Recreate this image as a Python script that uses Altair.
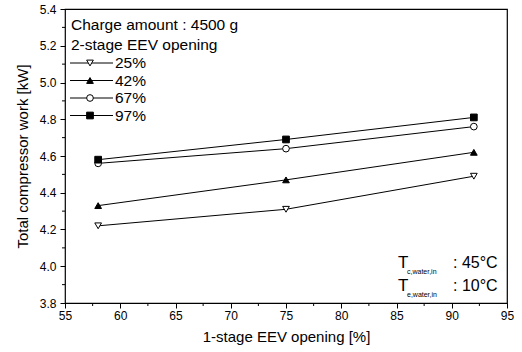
import altair as alt
import pandas as pd

series = ["25%", "42%", "67%", "97%"]
x_open = [58, 75, 92]
work_25 = [4.22, 4.31, 4.49]
work_42 = [4.33, 4.47, 4.62]
work_67 = [4.56, 4.64, 4.76]
work_97 = [4.58, 4.69, 4.81]
shapes = ["triangle-down", "triangle-up", "circle", "square"]
fills = ["white", "black", "white", "black"]

x_major = [55, 60, 65, 70, 75, 80, 85, 90, 95]
x_minor = [57.5, 62.5, 67.5, 72.5, 77.5, 82.5, 87.5, 92.5]
y_major = [3.8, 4.0, 4.2, 4.4, 4.6, 4.8, 5.0, 5.2, 5.4]
y_minor = [3.9, 4.1, 4.3, 4.5, 4.7, 4.9, 5.1, 5.3]

rows = []
for s, vals in zip(series, [work_25, work_42, work_67, work_97]):
    for xv, yv in zip(x_open, vals):
        rows.append({"series": s, "x": xv, "y": yv})
df = pd.DataFrame(rows)
one = pd.DataFrame({"k": [0]})

W, H = 442, 294
FONT = "Liberation Sans"

xs = alt.Scale(domain=[55, 95], nice=False)
ys = alt.Scale(domain=[3.8, 5.4], nice=False)

xaxis = alt.Axis(values=x_major, format="d", title="1-stage EEV opening [%]",
                 grid=False, tickSize=5, tickColor="black", domain=False,
                 labelOverlap=False, labelFlush=False,
                 labelFont=FONT, labelFontSize=12, labelColor="black", labelPadding=2,
                 titleFont=FONT, titleFontSize=15, titleFontWeight="normal",
                 titleColor="black", titlePadding=8)
yaxis = alt.Axis(values=y_major, format=".1f", title="Total compressor work [kW]",
                 grid=False, tickSize=5, tickColor="black", domain=False,
                 labelOverlap=False, labelFlush=False,
                 labelFont=FONT, labelFontSize=12, labelColor="black", labelPadding=4,
                 titleFont=FONT, titleFontSize=15, titleFontWeight="normal",
                 titleColor="black", titlePadding=9)

base = alt.Chart(df)
lines = base.mark_line(color="black", strokeWidth=1).encode(
    x=alt.X("x:Q", scale=xs, axis=xaxis),
    y=alt.Y("y:Q", scale=ys, axis=yaxis),
    detail="series:N",
)
points = base.mark_point(size=45, stroke="black", strokeWidth=1, opacity=1, filled=False).encode(
    x=alt.X("x:Q", scale=xs, axis=xaxis),
    y=alt.Y("y:Q", scale=ys, axis=yaxis),
    shape=alt.Shape("series:N", scale=alt.Scale(domain=series, range=shapes), legend=None),
    fill=alt.Fill("series:N", scale=alt.Scale(domain=series, range=fills), legend=None),
)

xminor_df = pd.DataFrame({"x": x_minor})
yminor_df = pd.DataFrame({"y": y_minor})
xmin_ticks = alt.Chart(xminor_df).mark_rule(color="black", strokeWidth=1).encode(
    x=alt.X("x:Q", scale=xs, axis=xaxis), y=alt.value(H), y2=alt.value(H + 3))
ymin_ticks = alt.Chart(yminor_df).mark_rule(color="black", strokeWidth=1).encode(
    y=alt.Y("y:Q", scale=ys, axis=yaxis), x=alt.value(0), x2=alt.value(-3))

layers = [lines, points, xmin_ticks, ymin_ticks]

# Legend (drawn inside plot)
txt = dict(font=FONT, color="black", align="left", baseline="middle", fontWeight="normal")
layers.append(alt.Chart(one).mark_text(fontSize=15.5, **txt).encode(
    x=alt.value(6), y=alt.value(16), text=alt.value("Charge amount : 4500 g")))
layers.append(alt.Chart(one).mark_text(fontSize=15.5, **txt).encode(
    x=alt.value(6), y=alt.value(36), text=alt.value("2-stage EEV opening")))
for i, s in enumerate(series):
    yy = 54 + i * 17.5
    layers.append(alt.Chart(one).mark_rule(color="black", strokeWidth=1).encode(
        x=alt.value(5), x2=alt.value(48), y=alt.value(yy)))
    layers.append(alt.Chart(pd.DataFrame({"series": [s]})).mark_point(
        size=45, stroke="black", strokeWidth=1, opacity=1).encode(
        x=alt.value(25), y=alt.value(yy),
        shape=alt.Shape("series:N", scale=alt.Scale(domain=series, range=shapes), legend=None),
        fill=alt.Fill("series:N", scale=alt.Scale(domain=series, range=fills), legend=None)))
    layers.append(alt.Chart(one).mark_text(fontSize=15.5, **txt).encode(
        x=alt.value(50), y=alt.value(yy), text=alt.value(s)))

# Condition annotations
for j, (sub, val) in enumerate([("c,water,in", ": 45°C"), ("e,water,in", ": 10°C")]):
    yy = 254 + j * 23
    layers.append(alt.Chart(one).mark_text(fontSize=17, **txt).encode(
        x=alt.value(333), y=alt.value(yy), text=alt.value("T")))
    layers.append(alt.Chart(one).mark_text(fontSize=7, **txt).encode(
        x=alt.value(342), y=alt.value(yy + 9), text=alt.value(sub)))
    layers.append(alt.Chart(one).mark_text(fontSize=16, **txt).encode(
        x=alt.value(388), y=alt.value(yy), text=alt.value(val)))

chart = alt.layer(*layers).properties(
    width=W, height=H,
    autosize=alt.AutoSizeParams(type="none"),
    padding={"left": 65, "top": 9, "right": 15, "bottom": 49},
    background="white",
).configure_view(stroke="black", strokeWidth=1.2)

chart.save("out.html", embed_options={"renderer": "svg", "actions": False})
